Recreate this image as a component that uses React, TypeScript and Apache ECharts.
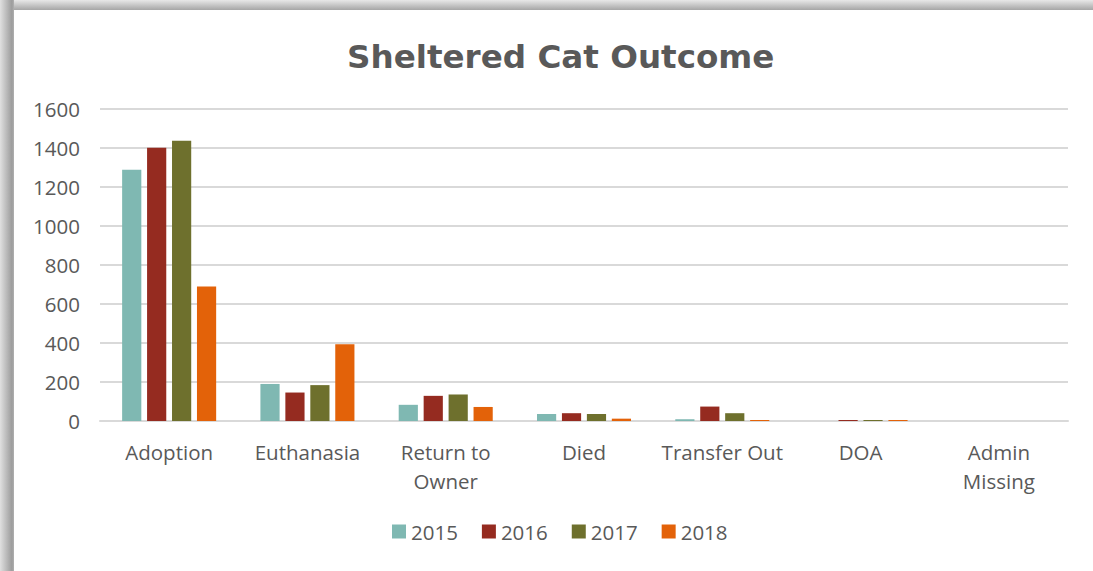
import React, { useEffect, useRef } from "react";
import * as echarts from "echarts";

const categories = ["Adoption", "Euthanasia", "Return to\nOwner", "Died", "Transfer Out", "DOA", "Admin\nMissing"];
const seriesNames = ["2015", "2016", "2017", "2018"];
const values2015 = [1288, 190, 83, 36, 9, 0, 0];
const values2016 = [1401, 146, 129, 40, 74, 5, 0];
const values2017 = [1437, 184, 136, 36, 40, 5, 0];
const values2018 = [690, 393, 72, 12, 5, 5, 0];
const seriesValues = [values2015, values2016, values2017, values2018];
const colors = ["#7fb8b2", "#952b20", "#6e702d", "#e36209"];
const yTicks = { min: 0, max: 1600, interval: 200 };

export default function App() {
  const ref = useRef<HTMLDivElement>(null);
  useEffect(() => {
    document.body.style.margin = "0";
    const chart = echarts.init(ref.current!, null, { renderer: "svg" });
    const font = "'Open Sans', sans-serif";
    chart.setOption({
      animation: false,
      backgroundColor: "#ffffff",
      title: {
        text: "Sheltered Cat Outcome",
        left: 342,
        top: 35,
        textStyle: { fontFamily: "'DejaVu Sans', sans-serif", fontWeight: "bold", fontSize: 32.6, color: "#595959" },
      },
      grid: { left: 100, right: 25, top: 109, bottom: 150 },
      legend: {
        bottom: 24,
        left: 387,
        itemWidth: 14,
        itemHeight: 14,
        itemGap: 24,
        icon: "rect",
        textStyle: { fontFamily: font, fontSize: 20.5, color: "#595959" },
        data: seriesNames,
      },
      xAxis: {
        type: "category",
        data: categories,
        axisTick: { show: false },
        axisLine: { lineStyle: { color: "#d9d9d9", width: 2 } },
        axisLabel: { fontFamily: font, fontSize: 20.5, color: "#595959", margin: 16, lineHeight: 29, interval: 0 },
      },
      yAxis: {
        type: "value",
        min: yTicks.min,
        max: yTicks.max,
        interval: yTicks.interval,
        axisLine: { show: false },
        axisTick: { show: false },
        splitLine: { lineStyle: { color: "#d9d9d9", width: 2 } },
        axisLabel: { fontFamily: font, fontSize: 20.5, color: "#595959", margin: 20, formatter: (v: number) => String(v) },
      },
      series: seriesNames.map((name, i) => ({
        name,
        type: "bar",
        data: seriesValues[i],
        barGap: "30%",
        barCategoryGap: "32%",
        itemStyle: { color: colors[i] },
      })),
      graphic: [
        {
          type: "rect",
          shape: { x: 0, y: 0, width: 1093, height: 10 },
          style: {
            fill: new echarts.graphic.LinearGradient(0, 0, 0, 1, [
              { offset: 0, color: "#e8e8e8" },
              { offset: 1, color: "#a6a6a6" },
            ]),
          },
        },
        {
          type: "rect",
          shape: { x: 0, y: 0, width: 14, height: 571 },
          style: {
            fill: new echarts.graphic.LinearGradient(0, 0, 1, 0, [
              { offset: 0, color: "#e0e0e0" },
              { offset: 0.85, color: "#9c9c9c" },
              { offset: 1, color: "#b0b0b0" },
            ]),
          },
        },
      ],
    });
    return () => chart.dispose();
  }, []);
  return <div ref={ref} style={{ width: 1093, height: 571 }} />;
}
